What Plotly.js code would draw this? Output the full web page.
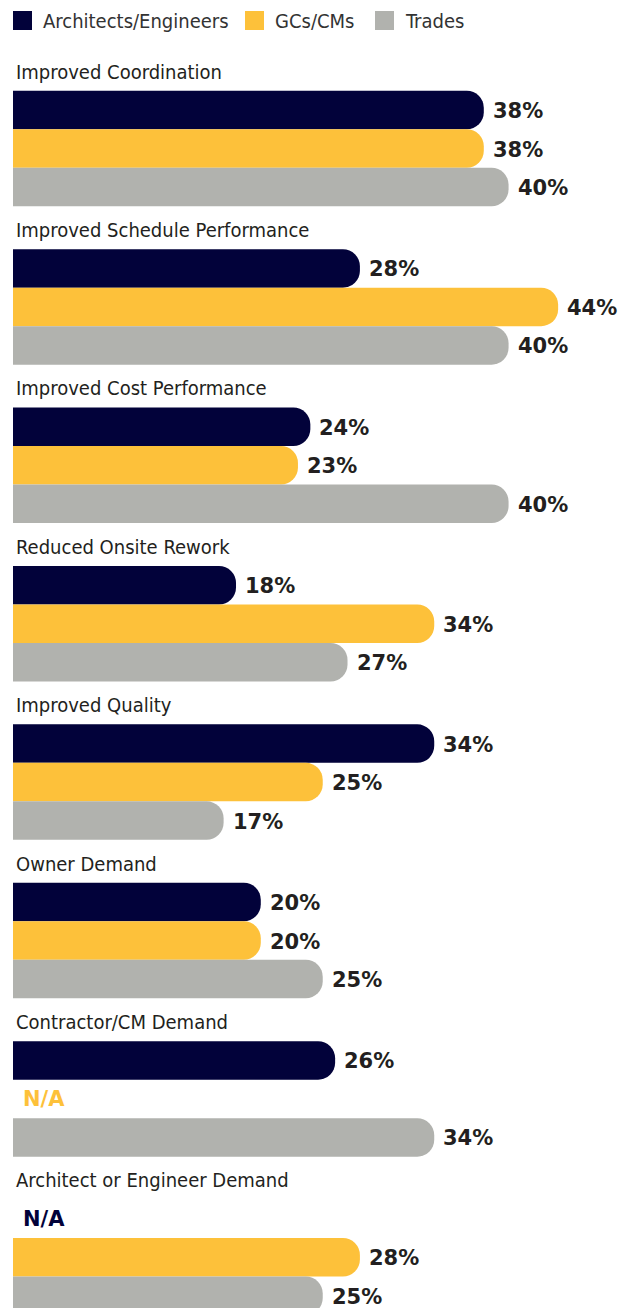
<!DOCTYPE html>
<html><head><meta charset="utf-8">
<script src="https://cdn.plot.ly/plotly-3.0.1.min.js"></script>
<style>html,body{margin:0;padding:0;background:#fff}#chart{width:630px;height:1308px}</style>
</head><body><div id="chart"></div>
<script>
// ---- data ----
const categories = ["Improved Coordination","Improved Schedule Performance","Improved Cost Performance","Reduced Onsite Rework","Improved Quality","Owner Demand","Contractor/CM Demand","Architect or Engineer Demand"];
const seriesNames = ["Architects/Engineers","GCs/CMs","Trades"];
const architectsEngineers = [38,28,24,18,34,20,26,null];
const gcsCms = [38,44,23,34,25,20,null,28];
const trades = [40,40,40,27,17,25,34,25];
const naLabel = "N/A";

// ---- styles ----
const colors = ["#02023a","#fdc13a","#b1b2ae"];
const textColor = "#231f20";
const condensed = "'Liberation Sans Narrow','Arial Narrow','DejaVu Sans Condensed',sans-serif";
const heavy = "'DejaVu Sans',sans-serif";
const barPx = 38.5;

const series = [architectsEngineers, gcsCms, trades];
const yIdx = categories.map((c,i)=>i);

const traces = series.map((vals,k)=>({
  type:'bar', orientation:'h', name:seriesNames[k],
  x: vals, y: yIdx,
  marker:{color:colors[k], cornerradius:17, line:{width:0}},
  hoverinfo:'x+name', showlegend:false
}));

const annotations = [];
categories.forEach((c,g)=>{
  annotations.push({x:0, y:g, xref:'x', yref:'y', text:c, showarrow:false,
    xanchor:'left', yanchor:'middle', xshift:1, yshift:77,
    font:{family:condensed, size:20, color:textColor}});
  series.forEach((vals,k)=>{
    const v = vals[g];
    const ys = (1-k)*barPx;
    if (v === null) {
      annotations.push({x:0, y:g, xref:'x', yref:'y', text:naLabel, showarrow:false,
        xanchor:'left', yanchor:'middle', xshift:8, yshift:ys,
        font:{family:heavy, size:21, color:colors[k], weight:'bold'}});
    } else {
      annotations.push({x:v, y:g, xref:'x', yref:'y', text:v+'%', showarrow:false,
        xanchor:'left', yanchor:'middle', xshift:7, yshift:ys-1,
        font:{family:heavy, size:21, color:textColor, weight:'bold'}});
    }
  });
});

// custom legend
const legendX = [0, 232, 362];
const shapes = [];
seriesNames.forEach((n,k)=>{
  shapes.push({type:'rect', xref:'paper', yref:'paper', xsizemode:'pixel', ysizemode:'pixel',
    xanchor:0, yanchor:1, x0:legendX[k], x1:legendX[k]+19, y0:-11, y1:-30,
    fillcolor:colors[k], line:{width:0}});
  annotations.push({xref:'paper', yref:'paper', x:0, y:1, xshift:legendX[k]+28, yshift:-20.5,
    xanchor:'left', yanchor:'middle', text:n, showarrow:false,
    font:{family:condensed, size:20, color:'#333333'}});
});

const layout = {
  width:630, height:1308,
  margin:{l:13, r:0, t:0, b:0},
  paper_bgcolor:'#fff', plot_bgcolor:'#fff',
  barmode:'group', bargap:0.271, bargroupgap:0,
  xaxis:{range:[0,49.8], visible:false, fixedrange:true},
  yaxis:{range:[7.320,-0.9375], visible:false, fixedrange:true},
  annotations, shapes, showlegend:false
};
Plotly.newPlot('chart', traces, layout, {displayModeBar:false, staticPlot:true});
</script></body></html>
